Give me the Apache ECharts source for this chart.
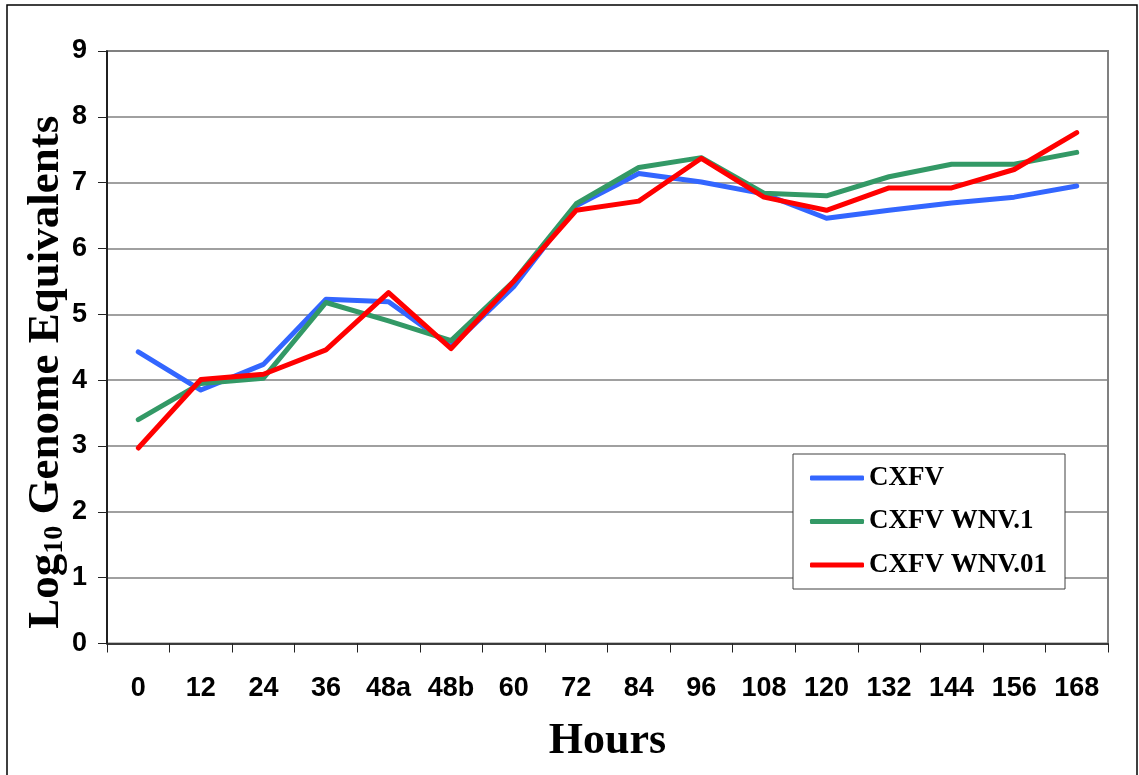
<!DOCTYPE html>
<html>
<head>
<meta charset="utf-8">
<script src="https://cdn.jsdelivr.net/npm/echarts@6/dist/echarts.min.js"></script>
<style>
html,body{margin:0;padding:0;background:#fff;}
#c{width:1139px;height:775px;}
</style>
</head>
<body>
<div id="c"></div>
<script>
const categories = ['0','12','24','36','48a','48b','60','72','84','96','108','120','132','144','156','168'];
const cxfv   = [4.43,3.85,4.24,5.23,5.19,4.51,5.42,6.65,7.14,7.01,6.83,6.46,6.58,6.69,6.78,6.95];
const wnv1   = [3.40,3.95,4.03,5.18,4.90,4.60,5.50,6.68,7.23,7.38,6.84,6.80,7.09,7.28,7.28,7.46];
const wnv01  = [2.97,4.01,4.09,4.46,5.33,4.48,5.50,6.58,6.72,7.37,6.78,6.58,6.92,6.92,7.20,7.76];
const seriesNames = ['CXFV','CXFV WNV.1','CXFV WNV.01'];
const seriesColors = ['#3366FF','#339966','#FF0000'];
const yTicks = {min:0, max:9, interval:1};

const chart = echarts.init(document.getElementById('c'), null, {renderer:'canvas'});
const lineSeries = [cxfv, wnv1, wnv01].map((d,i)=>({
  name: seriesNames[i],
  type: 'line',
  data: d,
  symbol: 'none',
  showSymbol: false,
  color: seriesColors[i],
  lineStyle: {width: 5, color: seriesColors[i], cap: 'round', join: 'round'},
  animation: false
}));

chart.setOption({
  animation: false,
  backgroundColor: '#fff',
  graphic: [{
    type: 'rect',
    shape: {x: 7, y: 5, width: 1130, height: 800},
    style: {fill: 'none', stroke: '#000', lineWidth: 1.5},
    z: -10, silent: true
  }],
  grid: {
    left: 107, right: 31, top: 51, bottom: 131.5,
    show: true, borderColor: '#808080', borderWidth: 2,
    outerBoundsMode: 'none'
  },
  legend: {
    orient: 'vertical',
    left: 793, top: 454,
    backgroundColor: '#fff',
    borderColor: '#404040', borderWidth: 1,
    padding: [9, 18, 9, 17],
    itemGap: 13.5,
    itemWidth: 54, itemHeight: 5,
    icon: 'roundRect',
    data: seriesNames,
    textStyle: {fontFamily: 'Liberation Serif', fontWeight: 'bold', fontSize: 27, color: '#000', lineHeight: 30}
  },
  xAxis: {
    type: 'category',
    data: categories,
    boundaryGap: true,
    axisLine: {show: true, lineStyle: {color: '#222', width: 1.5}},
    axisTick: {show: true, length: 9, lineStyle: {color: '#222', width: 1}},
    axisLabel: {margin: 32, fontFamily: 'Liberation Sans', fontWeight: 'bold', fontSize: 27, color: '#000', interval: 0},
    splitLine: {show: false},
    name: 'Hours',
    nameLocation: 'middle',
    nameGap: 76,
    nameMoveOverlap: false,
    nameTextStyle: {fontFamily: 'Liberation Serif', fontWeight: 'bold', fontSize: 44, color: '#000', lineHeight: 44}
  },
  yAxis: {
    type: 'value',
    min: yTicks.min, max: yTicks.max, interval: yTicks.interval,
    axisLine: {show: true, lineStyle: {color: '#000', width: 1.5}},
    axisTick: {show: true, length: 9, lineStyle: {color: '#222', width: 1}},
    axisLabel: {margin: 20, fontFamily: 'Liberation Sans', fontWeight: 'bold', fontSize: 27, color: '#000'},
    splitLine: {show: true, lineStyle: {color: '#808080', width: 1.5}},
    name: '{a|Log}{b|10}{a| Genome Equivalents}',
    nameLocation: 'middle',
    nameGap: 38,
    nameMoveOverlap: false,
    nameRotate: 90,
    nameTextStyle: {
      padding: [0, 50, 0, 0],
      rich: {
        a: {fontFamily: 'Liberation Serif', fontWeight: 'bold', fontSize: 45, color: '#000', lineHeight: 45, verticalAlign: 'bottom'},
        b: {fontFamily: 'Liberation Serif', fontWeight: 'bold', fontSize: 28, color: '#000', lineHeight: 28, verticalAlign: 'bottom'}
      }
    }
  },
  series: lineSeries
});
</script>
</body>
</html>
